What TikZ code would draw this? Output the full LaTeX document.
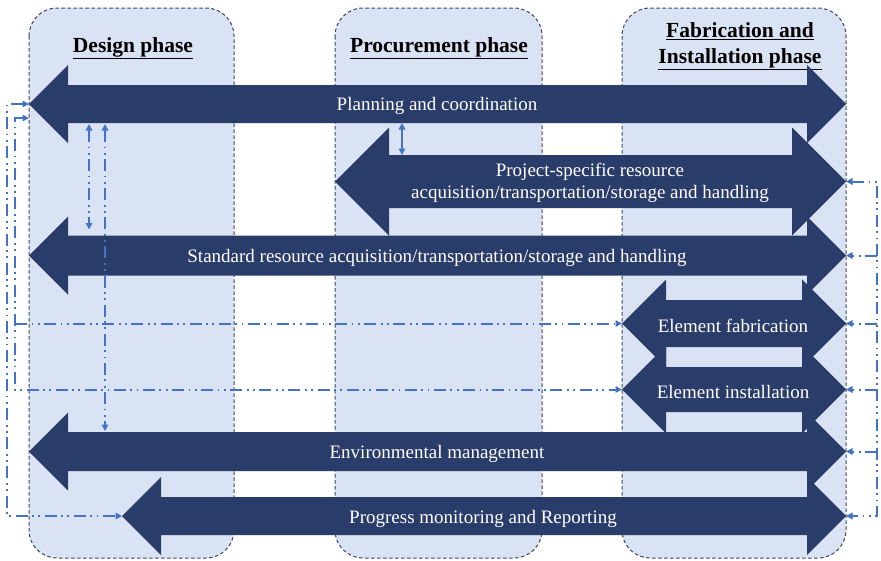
\documentclass[tikz,border=0pt]{standalone}
\usepackage{fontspec}
\setmainfont{Liberation Serif}
\usetikzlibrary{arrows.meta}

\definecolor{phasefill}{HTML}{DAE3F3}
\definecolor{phaseline}{HTML}{3A4560}
\definecolor{navy}{HTML}{2A3C6A}
\definecolor{link}{HTML}{4472C4}

\tikzset{
  phase/.style={fill=phasefill, draw=phaseline, line width=1pt,
    dash pattern=on 3.5pt off 2.5pt, rounded corners=28pt},
  phasetitle/.style={font=\fontsize{21.5}{26}\selectfont\bfseries, align=center, text=black},
  flow/.style={fill=navy},
  flowtext/.style={font=\fontsize{19}{22}\selectfont, text=white, align=center},
  conn/.style={draw=link, line width=2pt,
    dash pattern=on 12pt off 4.5pt on 1.8pt off 4.5pt on 1.8pt off 4.5pt},
  link/.style={draw=link, line width=1.6pt},
  >={Triangle[length=6.5pt,width=6.5pt]}
}

% two-headed block arrow: name, left tip x, right tip x, centre y,
% shaft half-height, head half-height, head length
\newcommand{\biarrow}[7]{%
  \fill[flow] (#2,#4) -- (#2+#7,#4-#6) -- (#2+#7,#4-#5) -- (#3-#7,#4-#5)
    -- (#3-#7,#4-#6) -- (#3,#4) -- (#3-#7,#4+#6) -- (#3-#7,#4+#5)
    -- (#2+#7,#4+#5) -- (#2+#7,#4+#6) -- cycle;
  \coordinate (#1-W) at (#2,#4);
  \coordinate (#1-E) at (#3,#4);
  \coordinate (#1-N) at ({(#2+#3)/2},#4-#5);
  \coordinate (#1-S) at ({(#2+#3)/2},#4+#5);
}

\begin{document}
\begin{tikzpicture}[x=1pt,y=-1pt]
\useasboundingbox (0,0) rectangle (881,560);
\fill[white] (0,0) rectangle (881,560);

% phase columns
\draw[phase] (29,8) rectangle (234,558);
\draw[phase] (335,8) rectangle (542,558);
\draw[phase] (622,8) rectangle (846,558);

\node[phasetitle, anchor=base] (design) at (133,52) {\underline{Design phase}};
\node[phasetitle, anchor=base] (procure) at (439,52) {\underline{Procurement phase}};
\node[phasetitle] (fabinst) at (740,46) {\underline{Fabrication and}\\\underline{Installation phase}};

% activity arrows
\biarrow{plan}{29}{846}{104}{19}{39}{39}
\biarrow{proj}{335}{846}{181.5}{26.5}{54}{54}
\biarrow{std}{29}{846}{255.5}{20}{39}{39}
\biarrow{fab}{622}{846}{323.5}{23.5}{44}{44}
\biarrow{inst}{622}{846}{389.5}{22.5}{44}{44}
\biarrow{env}{29}{846}{451.5}{19.5}{39}{39}
\biarrow{prog}{122}{846}{516}{19}{39}{39}

\node[flowtext] (plantxt) at (437,106) {Planning and coordination};
\node[flowtext] (projtxt) at (590,183) {Project-specific resource\\acquisition/transportation/storage and handling};
\node[flowtext] (stdtxt) at (437,257.5) {Standard resource acquisition/transportation/storage and handling};
\node[flowtext] (fabtxt) at (733,325.5) {Element fabrication};
\node[flowtext] (insttxt) at (733,391.5) {Element installation};
\node[flowtext] (envtxt) at (437,453.5) {Environmental management};
\node[flowtext] (progtxt) at (483,518.5) {Progress monitoring and Reporting};

% rails and end points of the dash-dot links
\coordinate (railA) at (7,0);
\coordinate (railB) at (15,0);
\coordinate (railR) at (877,0);
\coordinate (vA) at (89,0);
\coordinate (vB) at (105,0);
\coordinate (vC) at (402,0);
\coordinate (planlow) at (29,118);

% left side links
\draw[conn,<->] (plan-W) -- (railA |- plan-W) -- (railA |- prog-W) -- (prog-W);
\draw[conn,<->] (planlow) -- (railB |- planlow) -- (railB |- inst-W) -- (inst-W);
\draw[conn,->] (railB |- fab-W) -- (fab-W);

% vertical links between the arrows
\draw[conn,<->,shorten <=1pt,shorten >=6pt] (vA |- plan-S) -- (vA |- std-N);
\draw[conn,<->,shorten <=1pt,shorten >=1pt] (vB |- plan-S) -- (vB |- env-N);
\draw[link,<->] (vC |- plan-S) -- (vC |- proj-N);

% right side links
\draw[conn,<->] (proj-E) -- (railR |- proj-E) -- (railR |- prog-E) -- (prog-E);
\draw[conn,->] (railR |- std-E) -- (std-E);
\draw[conn,->] (railR |- fab-E) -- (fab-E);
\draw[conn,->] (railR |- inst-E) -- (inst-E);
\draw[conn,->] (railR |- env-E) -- (env-E);
\end{tikzpicture}
\end{document}
